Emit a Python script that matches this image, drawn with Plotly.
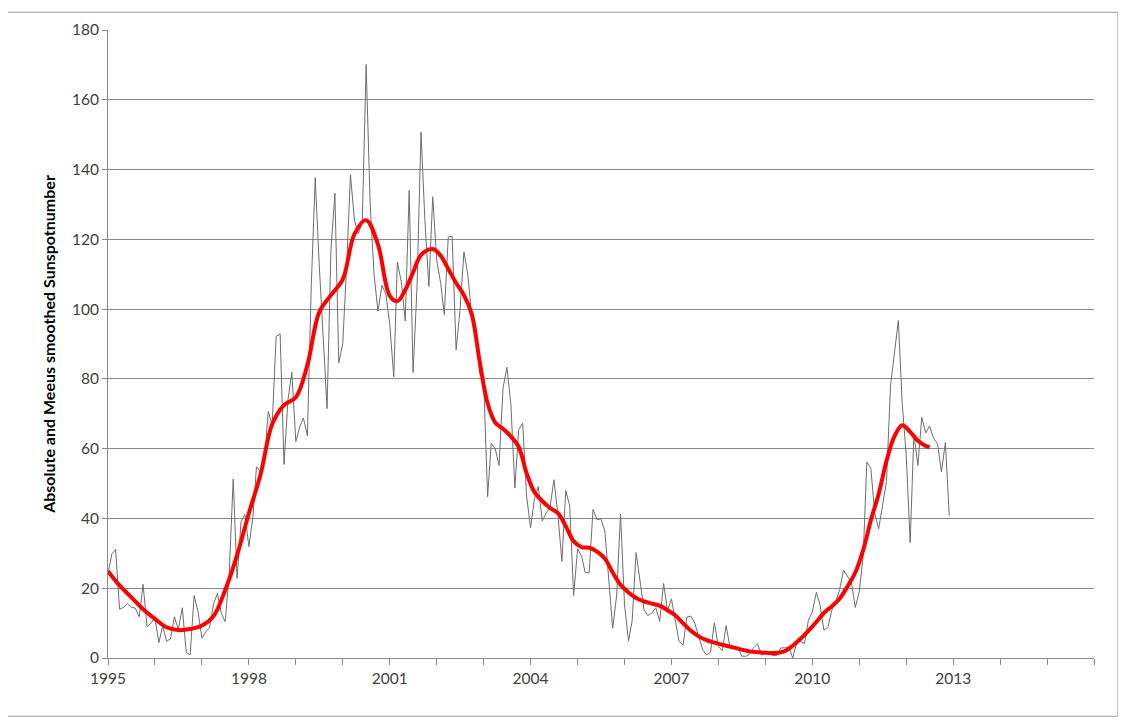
import pandas as pd
import plotly.graph_objects as go

# Monthly sunspot numbers, Jan 1995 .. Dec 2012
monthly_values = [
    24.2, 29.9, 31.1, 14.0, 14.5, 15.6, 14.5, 14.3, 11.8, 21.1, 9.0, 10.0,    # 1995
    11.5, 4.4, 9.2, 4.8, 5.5, 11.8, 8.2, 14.4, 1.6, 0.9, 17.9, 13.3,          # 1996
    5.7, 7.6, 8.7, 15.5, 18.5, 12.7, 10.4, 24.4, 51.3, 22.8, 39.0, 41.2,      # 1997
    31.9, 40.3, 54.8, 53.4, 56.3, 70.7, 66.6, 92.2, 92.9, 55.5, 74.0, 81.9,   # 1998
    62.0, 66.3, 68.8, 63.7, 106.4, 137.7, 113.5, 93.7, 71.5, 116.7, 133.2, 84.6,  # 1999
    90.1, 112.9, 138.5, 125.5, 121.6, 124.9, 170.1, 130.5, 109.7, 99.4, 106.8, 104.4,  # 2000
    95.6, 80.6, 113.5, 107.7, 96.6, 134.0, 81.8, 106.4, 150.7, 125.5, 106.5, 132.2,  # 2001
    114.1, 107.4, 98.4, 120.7, 120.8, 88.3, 99.6, 116.4, 109.6, 97.5, 95.0, 81.6,   # 2002
    79.5, 46.2, 61.5, 60.0, 55.2, 77.4, 83.3, 72.7, 48.7, 65.5, 67.3, 46.5,   # 2003
    37.3, 45.8, 49.1, 39.3, 41.5, 43.2, 51.1, 40.9, 27.7, 48.0, 43.5, 17.9,   # 2004
    31.3, 29.2, 24.5, 24.4, 42.6, 39.6, 39.9, 36.4, 22.1, 8.5, 18.0, 41.2,    # 2005
    15.3, 4.9, 10.6, 30.2, 22.3, 13.9, 12.2, 12.9, 14.4, 10.5, 21.4, 13.6,    # 2006
    16.9, 10.6, 4.8, 3.7, 11.7, 12.0, 10.0, 6.2, 2.4, 0.9, 1.7, 10.1,         # 2007
    3.3, 2.1, 9.3, 2.9, 2.9, 3.1, 0.5, 0.5, 1.1, 2.9, 4.1, 0.8,               # 2008
    1.5, 1.4, 0.7, 0.8, 2.9, 2.9, 3.2, 0.0, 4.3, 4.8, 4.1, 10.8,              # 2009
    13.2, 18.8, 15.4, 8.0, 8.7, 13.6, 16.1, 19.6, 25.2, 23.5, 21.6, 14.5,     # 2010
    19.0, 29.4, 56.2, 54.4, 41.6, 37.0, 43.9, 50.6, 78.0, 88.0, 96.7, 73.0,   # 2011
    58.3, 33.1, 64.3, 55.2, 69.0, 64.5, 66.5, 63.0, 61.4, 53.3, 61.8, 40.8,   # 2012
]
monthly_dates = pd.date_range("1995-01-01", periods=len(monthly_values), freq="MS")

# Meeus smoothed sunspot number
smoothed_dates = [
    "1995-01", "1995-04", "1995-07", "1995-10", "1996-01", "1996-04", "1996-07", "1996-10",
    "1997-01", "1997-04", "1997-07", "1997-10", "1998-01", "1998-04", "1998-07", "1998-10",
    "1999-01", "1999-04", "1999-07", "1999-10", "2000-01", "2000-04", "2000-07", "2000-10",
    "2001-01", "2001-03", "2001-05", "2001-07", "2001-09", "2001-12", "2002-02", "2002-04",
    "2002-06", "2002-08", "2002-10", "2002-12", "2003-02", "2003-04", "2003-06", "2003-08",
    "2003-10", "2003-12", "2004-02", "2004-04", "2004-06", "2004-08", "2004-10", "2004-12",
    "2005-02", "2005-04", "2005-06", "2005-08", "2005-10", "2005-12", "2006-02", "2006-04",
    "2006-06", "2006-08", "2006-10", "2006-12", "2007-02", "2007-04", "2007-06", "2007-08",
    "2007-10", "2007-12", "2008-03", "2008-06", "2008-09", "2008-12", "2009-03", "2009-06",
    "2009-08", "2009-10", "2009-12", "2010-02", "2010-04", "2010-06", "2010-08", "2010-10",
    "2010-12", "2011-02", "2011-04", "2011-06", "2011-08", "2011-10", "2011-12", "2012-02",
    "2012-04", "2012-06", "2012-07",
]
smoothed_values = [
    24.9, 20.8, 17.4, 14.0, 11.2, 8.8, 8.0, 8.3,
    9.3, 12.0, 19.5, 29.5, 41.5, 52.5, 67.0, 72.5,
    74.7, 84.0, 99.0, 104.0, 108.5, 121.5, 125.5, 118.5,
    103.8, 102.3, 105.5, 110.5, 115.5, 117.2, 115.3, 111.5,
    107.5, 104.0, 98.5, 85.0, 73.0, 67.5, 65.7, 63.5,
    60.5, 53.0, 47.5, 45.0, 43.0, 41.5, 37.8, 33.5,
    31.8, 31.6, 30.5, 28.5, 24.5, 21.0, 18.8, 17.2,
    16.2, 15.6, 15.0, 13.7, 12.2, 10.0, 7.8, 6.2,
    5.1, 4.4, 3.5, 2.7, 1.9, 1.6, 1.4, 2.0,
    3.5, 5.5, 7.8, 10.3, 12.9, 14.8, 17.0, 20.5,
    24.5, 31.0, 39.5, 47.0, 56.5, 63.5, 66.7, 64.8,
    62.3, 60.8, 60.4,
]

axis_years = list(range(1995, 2017))
label_years = [1995, 1998, 2001, 2004, 2007, 2010, 2013]
y_ticks = list(range(0, 181, 20))

FONT = "Lato, 'Open Sans', sans-serif"
GRID = "#8a8a8a"

fig = go.Figure()
fig.add_trace(go.Scatter(
    x=monthly_dates, y=monthly_values, mode="lines",
    line=dict(color="#6e6e6e", width=1), showlegend=False,
))
fig.add_trace(go.Scatter(
    x=pd.to_datetime(smoothed_dates), y=smoothed_values, mode="lines",
    line=dict(color="#ff0000", width=4, shape="spline", smoothing=1.0),
    showlegend=False,
))

tickvals = [pd.Timestamp(f"{y}-01-01") for y in axis_years]
ticktext = [str(y) if y in label_years else "" for y in axis_years]

# page has an 8px body offset; plot area targeted at x 108..1094, y 22..658
OFF = 8
L, R, T, B = 108, 1094, 22, 658
W, H = 1126, 720
fig.update_layout(
    width=W, height=H,
    margin=dict(l=L - OFF, r=W + OFF - R, t=T - OFF, b=H + OFF - B),
    paper_bgcolor="white", plot_bgcolor="white",
    font=dict(family=FONT, size=15, color="#404040"),
    xaxis=dict(
        type="date",
        range=[pd.Timestamp("1995-01-01"), pd.Timestamp("2016-01-01")],
        tickmode="array", tickvals=tickvals, ticktext=ticktext,
        ticks="outside", ticklen=6, tickcolor=GRID, tickwidth=1,
        showgrid=False, showline=True, linecolor=GRID, linewidth=1,
        zeroline=False, tickfont=dict(size=15.5, color="#404040"),
    ),
    yaxis=dict(
        range=[0, 180], tickmode="array", tickvals=y_ticks,
        ticks="outside", ticklen=5, tickcolor=GRID,
        showgrid=True, gridcolor=GRID, gridwidth=1,
        showline=True, linecolor=GRID, linewidth=1, zeroline=False,
        tickfont=dict(size=15.5, color="#404040"),
        title=dict(text="<b>Absolute and Meeus smoothed Sunspotnumber</b>",
                   font=dict(size=16, color="black", family=FONT), standoff=12),
    ),
    shapes=[dict(
        type="rect", xref="paper", yref="paper",
        x0=(7 - L) / (R - L), x1=(1118 - L) / (R - L),
        y0=(B - 717) / (B - T), y1=(B - 4) / (B - T),
        line=dict(color="#9a9a9a", width=1), fillcolor="rgba(0,0,0,0)",
        layer="below",
    )],
)

fig.write_html("out.html")
